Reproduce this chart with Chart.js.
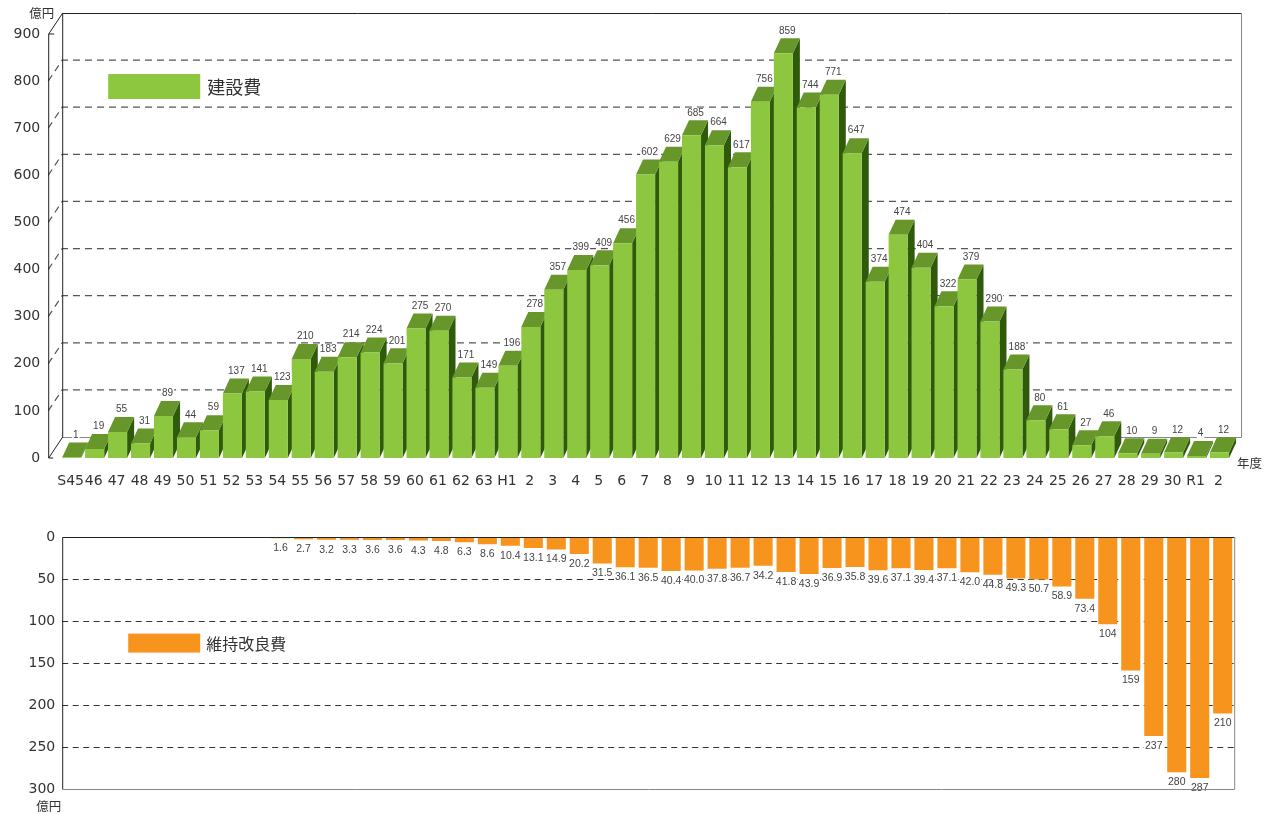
<!DOCTYPE html>
<html>
<head>
<meta charset="utf-8">
<script src="https://cdn.jsdelivr.net/npm/chart.js@4.4.1/dist/chart.umd.min.js"></script>
<style>
  html,body{margin:0;padding:0;background:#fff;}
  #wrap{position:relative;width:1279px;height:814px;overflow:hidden;}
  #top{position:absolute;left:0;top:0;}
  #bot{position:absolute;left:0;top:500px;}
</style>
</head>
<body>
<div id="wrap">
  <canvas id="top" width="1279" height="500"></canvas>
  <canvas id="bot" width="1279" height="314"></canvas>
</div>
<script>
// ---- data ----
const categories = ['S45','46','47','48','49','50','51','52','53','54','55','56','57','58','59','60','61','62','63',
  'H1','2','3','4','5','6','7','8','9','10','11','12','13','14','15','16','17','18','19','20','21','22','23','24','25','26','27','28','29','30',
  'R1','2'];
const constructionCost = [1,19,55,31,89,44,59,137,141,123,210,183,214,224,201,275,270,171,149,
  196,278,357,399,409,456,602,629,685,664,617,756,859,744,771,647,374,474,404,322,379,290,188,80,61,27,46,10,9,12,
  4,12];
const maintenanceCost = [null,null,null,null,null,null,null,null,null,1.6,2.7,3.2,3.3,3.6,3.6,4.3,4.8,6.3,8.6,
  10.4,13.1,14.9,20.2,31.5,36.1,36.5,40.4,40.0,37.8,36.7,34.2,41.8,43.9,36.9,35.8,39.6,37.1,39.4,37.1,42.0,44.8,49.3,50.7,58.9,73.4,104,159,237,280,
  287,210];
const topTicks = {min:0, max:900, step:100};
const botTicks = {min:0, max:300, step:50};
const seriesNames = ['建設費','維持改良費'];
const unitLabel = '億円';
const xTitle = '年度';

// ---- styles ----
const GREEN = '#8dc63f', GREEN_TOP = '#67972b', GREEN_SIDE = '#2f5a0b';
const ORANGE = '#f7941d';
const TXT = '#333';
const FRAME = {dx:14, dy:-21};
const BAR = {dx:7, dy:-15};

Chart.defaults.font.family = "'DejaVu Sans', sans-serif";
Chart.defaults.color = TXT;

function labelBox(ctx, text, x, y, font){
  ctx.font = font;
  const w = ctx.measureText(text).width;
  ctx.fillStyle = '#fff';
  ctx.fillRect(x - w/2 - 1, y - 5, w + 2, 10);
  ctx.fillStyle = '#444';
  ctx.textAlign = 'center';
  ctx.textBaseline = 'middle';
  ctx.fillText(text, x, y);
}

const topPlugin = {
  id:'top3d',
  beforeDatasetsDraw(chart){
    const {ctx, chartArea:a, scales:{y}} = chart;
    const fx = a.left - 12, bl = fx + FRAME.dx, br = a.right + 10;
    const yT = y.getPixelForValue(topTicks.max), y0 = y.getPixelForValue(0);
    ctx.save();
    // back grid lines
    ctx.strokeStyle = '#555'; ctx.lineWidth = 1.2; ctx.setLineDash([7,5]);
    for (let v = topTicks.step; v < topTicks.max; v += topTicks.step){
      const yy = y.getPixelForValue(v);
      ctx.beginPath();
      ctx.moveTo(fx, yy); ctx.lineTo(bl, yy + FRAME.dy); ctx.lineTo(br - 6, yy + FRAME.dy);
      ctx.stroke();
    }
    ctx.setLineDash([]);
    // frame
    ctx.lineWidth = 1;
    ctx.strokeStyle = '#888';
    ctx.beginPath();
    ctx.moveTo(br + .5, yT + FRAME.dy); ctx.lineTo(br + .5, y0 + FRAME.dy + .5); ctx.lineTo(bl, y0 + FRAME.dy + .5);
    ctx.stroke();
    ctx.strokeStyle = '#222';
    ctx.beginPath();
    ctx.moveTo(bl + .5, y0 + FRAME.dy); ctx.lineTo(bl + .5, yT + FRAME.dy + .5); ctx.lineTo(br, yT + FRAME.dy + .5);
    ctx.stroke();
    ctx.beginPath();
    ctx.moveTo(fx + .5, y0); ctx.lineTo(fx + .5, yT); ctx.lineTo(bl + .5, yT + FRAME.dy);
    ctx.moveTo(fx + .5, yT); ctx.lineTo(fx + 6, yT);
    ctx.moveTo(fx + .5, y0); ctx.lineTo(bl + .5, y0 + FRAME.dy);
    ctx.moveTo(fx + .5, y0); ctx.lineTo(fx + 5, y0);
    ctx.stroke();
    // 3D faces
    const meta = chart.getDatasetMeta(0);
    meta.data.forEach(bar => {
      const {x, y:by, base, width} = bar.getProps(['x','y','base','width'], true);
      const l = x - width/2, r = x + width/2;
      ctx.fillStyle = GREEN_SIDE;
      ctx.beginPath();
      ctx.moveTo(r, by); ctx.lineTo(r + BAR.dx, by + BAR.dy); ctx.lineTo(r + BAR.dx, base + BAR.dy); ctx.lineTo(r, base);
      ctx.closePath(); ctx.fill();
      ctx.fillStyle = GREEN_TOP;
      ctx.beginPath();
      ctx.moveTo(l, by); ctx.lineTo(r, by); ctx.lineTo(r + BAR.dx, by + BAR.dy); ctx.lineTo(l + BAR.dx, by + BAR.dy);
      ctx.closePath(); ctx.fill();
    });
    ctx.restore();
  },
  afterDatasetsDraw(chart){
    const {ctx, chartArea:a, scales:{y}} = chart;
    const fx = a.left - 12;
    ctx.save();
    const meta = chart.getDatasetMeta(0);
    const data = chart.data.datasets[0].data;
    meta.data.forEach((bar, i) => {
      const {x, y:by} = bar.getProps(['x','y'], true);
      labelBox(ctx, String(data[i]), x + 4, by + BAR.dy - 7.5, "10px 'Liberation Sans', Arial, sans-serif");
    });
    // legend
    ctx.fillStyle = GREEN;
    ctx.fillRect(a.left + 48, a.top + 40, 92, 25);
    ctx.fillStyle = TXT;
    ctx.font = "18px 'Noto Sans CJK JP', sans-serif";
    ctx.textAlign = 'left'; ctx.textBaseline = 'middle';
    ctx.fillText(chart.data.datasets[0].label, a.left + 147, a.top + 53);
    // unit and axis title
    ctx.font = "12.5px 'Noto Sans CJK JP', sans-serif";
    ctx.textAlign = 'right';
    ctx.fillText(unitLabel, fx + 6, y.getPixelForValue(topTicks.max) - 21);
    ctx.textAlign = 'left';
    ctx.fillText(xTitle, a.right + 6, a.bottom + 5);
    ctx.restore();
  }
};

const botPlugin = {
  id:'botFrame',
  beforeDatasetsDraw(chart){
    const {ctx, chartArea:a, scales:{y}} = chart;
    ctx.save();
    ctx.strokeStyle = '#333'; ctx.lineWidth = 1.1; ctx.setLineDash([6,4.5]);
    for (let v = botTicks.step; v < botTicks.max; v += botTicks.step){
      const yy = Math.round(y.getPixelForValue(v)) + .5;
      ctx.beginPath(); ctx.moveTo(a.left, yy); ctx.lineTo(a.right, yy); ctx.stroke();
    }
    ctx.restore();
  },
  afterDatasetsDraw(chart){
    const {ctx, chartArea:a, scales:{y}} = chart;
    ctx.save();
    const meta = chart.getDatasetMeta(0);
    const data = chart.data.datasets[0].data;
    meta.data.forEach((bar, i) => {
      const v = data[i];
      if (v === null || v === undefined) return;
      const {x, y:by} = bar.getProps(['x','y'], true);
      const t = v >= 100 ? String(v) : v.toFixed(1);
      labelBox(ctx, t, x, by + 10, "10.5px 'Liberation Sans', Arial, sans-serif");
    });
    // frame
    ctx.lineWidth = 1;
    ctx.strokeStyle = '#888';
    ctx.beginPath();
    ctx.moveTo(a.right + .5, a.top); ctx.lineTo(a.right + .5, a.bottom + .5); ctx.lineTo(a.left, a.bottom + .5);
    ctx.stroke();
    ctx.strokeStyle = '#222';
    ctx.beginPath();
    ctx.moveTo(a.left + .5, a.bottom); ctx.lineTo(a.left + .5, a.top + .5); ctx.lineTo(a.right, a.top + .5);
    ctx.stroke();
    // legend
    ctx.fillStyle = ORANGE;
    ctx.fillRect(a.left + 66, y.getPixelForValue(115), 72, 19);
    ctx.fillStyle = TXT;
    ctx.font = "16px 'Noto Sans CJK JP', sans-serif";
    ctx.textAlign = 'left'; ctx.textBaseline = 'middle';
    ctx.fillText(chart.data.datasets[0].label, a.left + 144, y.getPixelForValue(115) + 10);
    ctx.font = "12.5px 'Noto Sans CJK JP', sans-serif";
    ctx.textAlign = 'right';
    ctx.fillText(unitLabel, a.left - 1, a.bottom + 17);
    ctx.restore();
  }
};

new Chart(document.getElementById('top'), {
  type:'bar',
  data:{labels:categories, datasets:[{label:seriesNames[0], data:constructionCost, backgroundColor:GREEN, borderWidth:0, barPercentage:0.83, categoryPercentage:1}]},
  options:{
    responsive:false, animation:false, devicePixelRatio:1,
    layout:{padding:{left:0, right:48, top:34, bottom:0}},
    plugins:{legend:{display:false}, tooltip:{enabled:false}},
    scales:{
      x:{grid:{display:false}, border:{display:false},
         ticks:{autoSkip:false, maxRotation:0, padding:7, labelOffset:-1, color:TXT, font:{size:14}},
         afterFit(s){ s.height = 42; }},
      y:{min:topTicks.min, max:topTicks.max, grid:{display:false, drawTicks:false}, border:{display:false},
         ticks:{stepSize:topTicks.step, padding:20, color:TXT, font:{size:14}},
         afterFit(s){ s.width = 60.2; }}
    }
  },
  plugins:[topPlugin]
});

new Chart(document.getElementById('bot'), {
  type:'bar',
  data:{labels:categories, datasets:[{label:seriesNames[1], data:maintenanceCost, backgroundColor:ORANGE, borderWidth:0, barPercentage:0.83, categoryPercentage:1}]},
  options:{
    responsive:false, animation:false, devicePixelRatio:1,
    layout:{padding:{left:0, right:44.8, top:37, bottom:25}},
    plugins:{legend:{display:false}, tooltip:{enabled:false}},
    scales:{
      x:{display:false},
      y:{reverse:true, min:botTicks.min, max:botTicks.max, grid:{display:false, drawTicks:false}, border:{display:false},
         ticks:{stepSize:botTicks.step, padding:7, color:TXT, font:{size:14}},
         afterFit(s){ s.width = 62.2; }}
    }
  },
  plugins:[botPlugin]
});
</script>
</body>
</html>
